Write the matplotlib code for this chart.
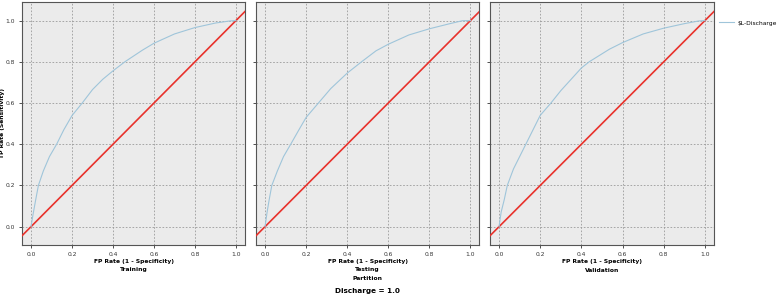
import matplotlib
matplotlib.use('Agg')
import matplotlib.pyplot as plt
from matplotlib.lines import Line2D

plt.rcParams['font.family'] = ['DejaVu Sans']

# ROC points
panels = ["Training", "Testing", "Validation"]

train_fpr = [0, 0.01, 0.022, 0.036, 0.06, 0.09, 0.125, 0.16, 0.2, 0.25, 0.3, 0.35,
             0.4, 0.458, 0.543, 0.6, 0.7, 0.8, 0.9, 0.97, 1.0]
train_tpr = [0, 0.06, 0.126, 0.2, 0.27, 0.34, 0.4, 0.47, 0.539, 0.6, 0.665, 0.715,
             0.756, 0.8, 0.856, 0.89, 0.935, 0.966, 0.988, 0.998, 1.0]

test_fpr = [0, 0.01, 0.02, 0.033, 0.06, 0.09, 0.125, 0.165, 0.2, 0.26, 0.32, 0.4,
            0.47, 0.54, 0.6, 0.7, 0.8, 0.9, 0.96, 1.0]
test_tpr = [0, 0.07, 0.13, 0.2, 0.27, 0.34, 0.4, 0.47, 0.53, 0.6, 0.67, 0.745,
            0.8, 0.853, 0.885, 0.93, 0.96, 0.985, 0.999, 1.0]

val_fpr = [0, 0.01, 0.025, 0.04, 0.07, 0.1, 0.13, 0.165, 0.2, 0.252, 0.3, 0.35,
           0.4, 0.438, 0.536, 0.6, 0.7, 0.8, 0.9, 0.97, 1.0]
val_tpr = [0, 0.07, 0.13, 0.2, 0.28, 0.34, 0.4, 0.47, 0.54, 0.6, 0.66, 0.715,
           0.77, 0.8, 0.861, 0.893, 0.935, 0.963, 0.985, 0.998, 1.0]

curves = [(train_fpr, train_tpr), (test_fpr, test_tpr), (val_fpr, val_tpr)]
ticks = [0.0, 0.2, 0.4, 0.6, 0.8, 1.0]

W, H = 777.0, 296.0
fig = plt.figure(figsize=(W / 100, H / 100), dpi=100)

# axes boxes in pixels: left, right, top, bottom
boxes = [(22, 245, 2, 245), (256, 479.5, 2, 245), (490, 714, 2, 245)]

roc_col = '#9fc5da'
diag_col = '#e8322c'
fs = 4.3

for i, (name, (fx, ty), b) in enumerate(zip(panels, curves, boxes)):
    l, r, t, bt = b
    ax = fig.add_axes([l / W, (H - bt) / H, (r - l) / W, (bt - t) / H])
    ax.set_facecolor('#ebebeb')
    ax.set_xlim(-0.044, 1.044)
    ax.set_ylim(-0.089, 1.09)
    ax.set_xticks(ticks)
    ax.set_yticks(ticks)
    ax.set_xticklabels(["%.1f" % v for v in ticks])
    if i == 0:
        ax.set_yticklabels(["%.1f" % v for v in ticks])
        ax.set_ylabel('TP Rate (Sensitivity)', fontsize=fs, fontweight='bold')
        ax.yaxis.set_label_coords(-0.078, 0.5)
    else:
        ax.set_yticklabels([])
        ax.tick_params(axis='y', length=0)
    ax.grid(True, color='#9a9a9a', linestyle=(0, (2, 2)), linewidth=0.6)
    ax.set_axisbelow(True)
    ax.tick_params(labelsize=fs, length=2, width=0.6, pad=3,
                   colors='#333333')
    for s in ax.spines.values():
        s.set_color('#555555')
        s.set_linewidth(0.8)

    ax.axline((0, 0), (1, 1), color=diag_col, linewidth=1.2, zorder=3)
    ax.plot(fx, ty, color=roc_col, linewidth=0.8, zorder=4)

    cx = (l + r) / 2 / W
    fig.text(cx, 1 - 261 / H, 'FP Rate (1 - Specificity)', fontsize=fs,
             fontweight='bold', ha='center', va='center')
    fig.text(cx, 1 - 270 / H, name, fontsize=fs, fontweight='bold',
             ha='center', va='center')

fig.text(367.5 / W, 1 - 278.5 / H, 'Partition', fontsize=fs, fontweight='bold',
         ha='center', va='center')
fig.text(367.5 / W, 1 - 291 / H, 'Discharge = 1.0', fontsize=5.2, fontweight='bold',
         ha='center', va='center')

handle = Line2D([], [], color=roc_col, linewidth=0.8)
fig.legend([handle], ['\\$L-Discharge'], loc='center left',
           bbox_to_anchor=(714 / W, 1 - 23 / H), frameon=False,
           fontsize=fs, handlelength=2.4, handletextpad=0.6)

plt.savefig('out.png', dpi=100)
